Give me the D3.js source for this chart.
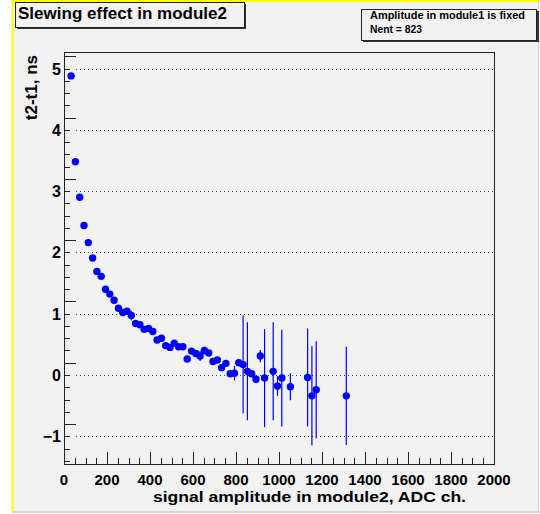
<!DOCTYPE html>
<meta charset="utf-8">
<style>
body {
  margin: 0;
  background: #ffffff;
}
svg {
  display: block;
  font-family: 'Liberation Sans', Arial, sans-serif;
  font-weight: bold;
}
.grid {
  stroke: #444;
  stroke-width: 1;
  stroke-dasharray: 1,3;
}
.tick {
  stroke: #222;
  stroke-width: 1;
}
</style>
<body>
<div id='chart'></div>
<script src="https://cdn.jsdelivr.net/npm/d3@7"></script>
<script>
// bin centres (ADC ch.), mean t2-t1 (ns) and its error
var ampX = [33, 53, 73, 93, 113, 133, 153, 173, 193, 213, 233, 253, 273, 293, 313, 333, 353, 373, 393, 413,
            433, 453, 473, 493, 513, 533, 553, 573, 593, 613, 633, 653, 673, 693, 713, 733, 753, 773, 793, 813,
            833, 853, 873, 893, 913, 933, 973, 993, 1013, 1053, 1133, 1153, 1173, 1313];
var dt = [4.88, 3.48, 2.90, 2.44, 2.16, 1.91, 1.69, 1.61, 1.40, 1.32, 1.22, 1.09, 1.02, 1.04, 0.97, 0.84, 0.82, 0.745, 0.76, 0.71,
          0.57, 0.60, 0.48, 0.45, 0.52, 0.46, 0.46, 0.26, 0.39, 0.35, 0.31, 0.40, 0.36, 0.22, 0.245, 0.12, 0.19, 0.02, 0.03, 0.20,
          0.17, 0.06, 0.02, -0.07, 0.31, -0.05, 0.06, -0.18, -0.05, -0.19, -0.04, -0.34, -0.24, -0.34];
var dtErr = [0.03, 0.03, 0.03, 0.03, 0.04, 0.03, 0.03, 0.03, 0.03, 0.03, 0.03, 0.03, 0.03, 0.03, 0.08, 0.03, 0.03, 0.03, 0.04, 0.03,
             0.03, 0.03, 0.03, 0.03, 0.03, 0.03, 0.03, 0.03, 0.04, 0.03, 0.08, 0.06, 0.03, 0.03, 0.03, 0.03, 0.03, 0.03, 0.12, 0.03,
             0.80, 0.80, 0.05, 0.06, 0.10, 0.80, 0.80, 0.16, 0.79, 0.22, 0.80, 0.81, 0.79, 0.80];

var xTicks = [0, 200, 400, 600, 800, 1000, 1200, 1400, 1600, 1800, 2000];
var yTicks = [-1, 0, 1, 2, 3, 4, 5];

var titleText = 'Slewing effect in module2';
var statLines = ['Amplitude in module1 is fixed', 'Nent = 823'];
var xTitle = 'signal amplitude in module2, ADC ch.';
var yTitle = 't2-t1, ns';

var W = 540, H = 514;
var fx0 = 64, fx1 = 494, fy0 = 52, fy1 = 464;

var svg = d3.select('#chart')
  .append('svg')
  .attr('width', W)
  .attr('height', H);

// canvas
svg.append('rect')
  .attr('x', 12).attr('y', 0)
  .attr('width', 526).attr('height', 512)
  .attr('fill', '#f2f2f2');
svg.append('line')
  .attr('x1', 12).attr('x2', 540).attr('y1', 512).attr('y2', 512)
  .attr('stroke', '#c8c8c8').attr('stroke-width', 1.5);
svg.append('line')
  .attr('x1', 538.5).attr('x2', 538.5).attr('y1', 0).attr('y2', 512)
  .attr('stroke', '#d0d0d0').attr('stroke-width', 1);
svg.append('line')
  .attr('x1', 12.5).attr('x2', 12.5).attr('y1', 0).attr('y2', 512)
  .attr('stroke', '#ffff00').attr('stroke-width', 2);
svg.append('line')
  .attr('x1', 12).attr('x2', 540).attr('y1', 1).attr('y2', 1)
  .attr('stroke', '#ffff00').attr('stroke-width', 2);

var x = d3.scaleLinear().domain([0, 2000]).range([fx0, fx1]);
var y = d3.scaleLinear().domain([-1.452, 5.27]).range([fy1, fy0]);

// grid
svg.append('g')
  .selectAll('line')
  .data(yTicks)
  .enter().append('line')
  .attr('class', 'grid')
  .attr('x1', fx0 + 12).attr('x2', fx1)
  .attr('y1', function(d) { return Math.round(y(d)) + 0.5; })
  .attr('y2', function(d) { return Math.round(y(d)) + 0.5; });

// y ticks
var yMinor = d3.range(-7, 27).map(function(i) { return i * 0.2; });
svg.append('g')
  .selectAll('line')
  .data(yMinor)
  .enter().append('line')
  .attr('class', 'tick')
  .attr('x1', fx0)
  .attr('x2', function(d, i) { return fx0 + ((i + 7) % 5 == 0 ? 12 : 6); })
  .attr('y1', function(d) { return Math.round(y(d)) + 0.5; })
  .attr('y2', function(d) { return Math.round(y(d)) + 0.5; });

// x ticks
var xMinor = d3.range(0, 41).map(function(i) { return i * 50; });
svg.append('g')
  .selectAll('line')
  .data(xMinor)
  .enter().append('line')
  .attr('class', 'tick')
  .attr('x1', function(d) { return Math.round(x(d)) + 0.5; })
  .attr('x2', function(d) { return Math.round(x(d)) + 0.5; })
  .attr('y1', fy1)
  .attr('y2', function(d, i) { return fy1 - (i % 4 == 0 ? 12 : 6); });

// frame
svg.append('rect')
  .attr('x', fx0 + 0.5).attr('y', fy0 + 0.5)
  .attr('width', fx1 - fx0).attr('height', fy1 - fy0)
  .attr('fill', 'none')
  .attr('stroke', '#222').attr('stroke-width', 1);

// tick labels
svg.append('g')
  .selectAll('text')
  .data(xTicks)
  .enter().append('text')
  .attr('x', function(d) { return x(d); })
  .attr('y', 484.5)
  .attr('text-anchor', 'middle')
  .attr('font-size', 15)
  .text(function(d) { return d; });

svg.append('g')
  .selectAll('text')
  .data(yTicks)
  .enter().append('text')
  .attr('x', 61)
  .attr('y', function(d) { return y(d) + 6; })
  .attr('text-anchor', 'end')
  .attr('font-size', 16)
  .text(function(d) { return d < 0 ? '\u2212' + (-d) : d; });

// axis titles
svg.append('text')
  .attr('x', 466)
  .attr('y', 501.5)
  .attr('text-anchor', 'end')
  .attr('font-size', 14.5)
  .attr('textLength', 313)
  .attr('lengthAdjust', 'spacingAndGlyphs')
  .text(xTitle);

svg.append('text')
  .attr('transform', 'translate(37,55) rotate(-90)')
  .attr('text-anchor', 'end')
  .attr('font-size', 17)
  .text(yTitle);

// error bars and points
var pts = ampX.map(function(a, i) { return {x: a, y: dt[i], e: dtErr[i]}; });

svg.append('g')
  .selectAll('line')
  .data(pts)
  .enter().append('line')
  .attr('x1', function(d) { return x(d.x); })
  .attr('x2', function(d) { return x(d.x); })
  .attr('y1', function(d) { return y(d.y + d.e); })
  .attr('y2', function(d) { return y(d.y - d.e); })
  .attr('stroke', '#0000ff')
  .attr('stroke-width', 1.2);

svg.append('g')
  .selectAll('circle')
  .data(pts)
  .enter().append('circle')
  .attr('cx', function(d) { return x(d.x); })
  .attr('cy', function(d) { return y(d.y); })
  .attr('r', 3.7)
  .attr('fill', '#0000ff');

// title box
svg.append('rect')
  .attr('x', 17).attr('y', 4)
  .attr('width', 229).attr('height', 25)
  .attr('fill', '#333');
svg.append('rect')
  .attr('x', 15.5).attr('y', 2.5)
  .attr('width', 229).attr('height', 25)
  .attr('fill', '#f2f2f2')
  .attr('stroke', '#222').attr('stroke-width', 1);
svg.append('text')
  .attr('x', 18)
  .attr('y', 18.5)
  .attr('font-size', 17)
  .attr('textLength', 209)
  .attr('lengthAdjust', 'spacingAndGlyphs')
  .text(titleText);

// stats box
svg.append('rect')
  .attr('x', 363).attr('y', 11)
  .attr('width', 176).attr('height', 31)
  .attr('fill', '#333');
svg.append('rect')
  .attr('x', 361.5).attr('y', 9.5)
  .attr('width', 175).attr('height', 31)
  .attr('fill', '#f2f2f2')
  .attr('stroke', '#222').attr('stroke-width', 1);
svg.append('text')
  .attr('x', 370)
  .attr('y', 18.7)
  .attr('font-size', 10.5)
  .attr('textLength', 155)
  .attr('lengthAdjust', 'spacingAndGlyphs')
  .text(statLines[0]);
svg.append('text')
  .attr('x', 370)
  .attr('y', 32.5)
  .attr('font-size', 10.5)
  .attr('textLength', 52)
  .attr('lengthAdjust', 'spacingAndGlyphs')
  .text(statLines[1]);
</script>
</body>
